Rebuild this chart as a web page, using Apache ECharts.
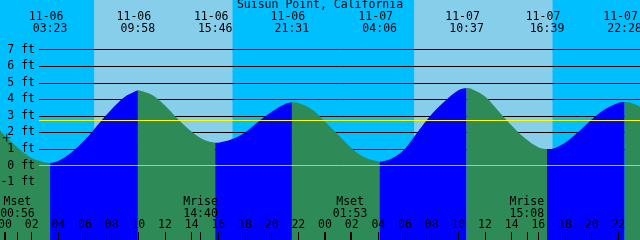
<!DOCTYPE html>
<html><head><meta charset="utf-8">
<script src="https://cdn.jsdelivr.net/npm/echarts@6/dist/echarts.min.js"></script>
<style>html,body{margin:0;padding:0;background:#00BFFF}#c{width:640px;height:240px}</style>
</head><body><div id="c"></div>
<script>
// ---- data ----
const chartTitle = 'Suisun Point, California';
const eventDates = ['11-06','11-06','11-06','11-06','11-07','11-07','11-07','11-07'];
const eventTimes = ['03:23','09:58','15:46','21:31','04:06','10:37','16:39','22:28'];
const eventFeet  = [0.15, 4.54, 1.37, 3.82, 0.22, 4.68, 0.98, 3.83];
const sampleHours = [-0.375,0,1,2,3,4,5,6,7,8,9,11,12,13,14,15,16,17,18,19,20,21,22,23,24,25,26,27,29,30,31,32,33,34,35,36,37,38,39,40,41,42,43,44,45,46,47,47.625];
const sampleFeet  = [2.13,1.8,1.05,0.45,0.18,0.27,0.8,1.55,2.5,3.4,4.15,4.27,3.62,2.78,2.04,1.52,1.38,1.58,2.0,2.65,3.25,3.72,3.78,3.4,2.65,1.85,1.05,0.48,0.42,1.02,2.08,3.1,3.9,4.55,4.63,4.17,3.3,2.42,1.64,1.1,1.0,1.38,2.02,2.78,3.4,3.78,3.77,3.55];
const sunDates = ['11-06','11-07'];
const sunrise = ['06:41','06:41'];
const sunset  = ['17:04','17:04'];
const moonDates  = ['11-06','11-06','11-07','11-07'];
const moonEvents = ['Mset','Mrise','Mset','Mrise'];
const moonTimes  = ['00:56','14:40','01:53','15:08'];
const hourTicks = [0,2,4,6,8,10,12,14,16,18,20,22,24,26,28,30,32,34,36,38,40,42,44,46];
const hourLabels = ['00','02','04','06','08','10','12','14','16','18','20','22','00','02','04','06','08','10','12','14','16','18','20','22'];
const midnightTicks = [0,24];
const levelLines = [1,2,3,4,5,6,7];
const meanLevel = 2.73;
const zeroLevel = 0;
const axisFeet = [-1,0,1,2,3,4,5,6,7];
const nowMark = [[0.13, 1.68]];

// ---- helpers ----
const dayIndex = d => (d === '11-06' ? 0 : 1);
function hoursOf(date, hhmm) { const [h, m] = hhmm.split(':').map(Number); return dayIndex(date) * 24 + h + m / 60; }
const eventHours = eventTimes.map((t, i) => hoursOf(eventDates[i], t));
const moonHours = moonTimes.map((t, i) => hoursOf(moonDates[i], t));
const sunBands = sunDates.map((d, i) => [{ xAxis: hoursOf(d, sunrise[i]) }, { xAxis: hoursOf(d, sunset[i]) }]);

const pts = sampleHours.map((h, i) => [h, sampleFeet[i], false])
  .concat(eventHours.map((h, i) => [h, eventFeet[i], true]))
  .sort((a, b) => a[0] - b[0]);
const segments = []; let cur = [];
pts.forEach(p => { cur.push([p[0], p[1]]); if (p[2]) { segments.push(cur); cur = [[p[0], p[1]]]; } });
if (cur.length > 1) segments.push(cur);

const FONT = 'DejaVu Sans Mono';
const XMIN = -0.375, XMAX = 47.625, LINE_START = 2.55;

const tideSeries = segments.map(seg => {
  const rising = seg[seg.length - 1][1] > seg[0][1];
  const col = rising ? '#0000FF' : '#2E8B57';
  return {
    type: 'line', data: seg, smooth: 0.35, showSymbol: false, silent: true, z: 10,
    lineStyle: { width: 0 }, areaStyle: { color: col, opacity: 1, origin: 'start' }, itemStyle: { color: col }
  };
});

const baseX = {
  type: 'value', min: XMIN, max: XMAX, gridIndex: 0, z: 50,
  axisLine: { show: false, onZero: false }, splitLine: { show: false }
};

const option = {
  animation: false,
  backgroundColor: '#00BFFF',
  textStyle: { fontFamily: FONT, fontSize: 11.5, color: '#000' },
  title: { text: chartTitle, left: 'center', top: -1, z: 50, padding: 0,
    textStyle: { fontFamily: FONT, fontSize: 11.5, fontWeight: 'normal', color: '#000', lineHeight: 12 } },
  grid: { left: 0, right: 0, top: 0, bottom: 0, containLabel: false, outerBoundsMode: 'none' },
  xAxis: [
    Object.assign({}, baseX, { position: 'bottom',
      axisTick: { show: true, inside: true, length: 8, customValues: hourTicks, lineStyle: { color: '#000', width: 1 } },
      axisLabel: { show: true, inside: true, margin: 9, customValues: hourTicks, fontFamily: FONT, fontSize: 11.5, color: '#000', lineHeight: 12,
        formatter: v => { const i = hourTicks.indexOf(v); return i >= 0 ? hourLabels[i] : ''; } } }),
    Object.assign({}, baseX, { position: 'top',
      axisTick: { show: false },
      axisLabel: { show: true, inside: true, margin: 11.5, customValues: eventHours, fontFamily: FONT, fontSize: 11.5, color: '#000', lineHeight: 12,
        formatter: v => { const i = eventHours.findIndex(h => Math.abs(h - v) < 1e-6); return i >= 0 ? '{d|' + eventDates[i] + '}\n{t|' + eventTimes[i] + '}' : ''; },
        rich: { d: { padding: [0, 8, 0, 0], fontFamily: FONT, fontSize: 11.5, lineHeight: 12 }, t: { fontFamily: FONT, fontSize: 11.5, lineHeight: 12 } } } }),
    Object.assign({}, baseX, { position: 'bottom',
      axisTick: { show: true, inside: true, length: 8, customValues: moonHours, lineStyle: { color: '#000', width: 1 } },
      axisLabel: { show: true, inside: true, margin: 20.5, customValues: moonHours, fontFamily: FONT, fontSize: 11.5, color: '#000', lineHeight: 11.5,
        formatter: v => { const i = moonHours.findIndex(h => Math.abs(h - v) < 1e-6); return i >= 0 ? moonEvents[i] + '\n' + moonTimes[i] : ''; } } }),
    Object.assign({}, baseX, { position: 'bottom',
      axisTick: { show: true, inside: true, length: 8, customValues: midnightTicks, lineStyle: { color: '#000', width: 2 } },
      axisLabel: { show: false } })
  ],
  yAxis: [{
    type: 'value', min: -4.5, max: 10, z: 50,
    axisLine: { show: false, onZero: false }, axisTick: { show: false }, splitLine: { show: false },
    axisLabel: { show: true, inside: true, align: 'right', margin: 35, customValues: axisFeet,
      fontFamily: FONT, fontSize: 11.5, color: '#000', formatter: v => v + ' ft' }
  }],
  series: [
    { type: 'line', data: [], silent: true, z: 1,
      markArea: { silent: true, z: 1, itemStyle: { color: '#87CEEB', opacity: 1 }, label: { show: false }, data: sunBands } },
    { type: 'line', data: [], silent: true, z: 5,
      markLine: { silent: true, z: 5, symbol: ['none', 'none'], label: { show: false },
        lineStyle: { color: '#000', width: 1, type: 'solid' },
        data: levelLines.map(v => [{ coord: [LINE_START, v] }, { coord: [XMAX, v] }]) } },
    ...tideSeries,
    { type: 'line', data: [], silent: true, z: 20,
      markLine: { silent: true, z: 20, symbol: ['none', 'none'], label: { show: false },
        data: [
          [{ coord: [LINE_START, meanLevel], lineStyle: { color: '#FFFF00', width: 1, type: 'solid' } }, { coord: [XMAX, meanLevel] }],
          [{ coord: [LINE_START, zeroLevel], lineStyle: { color: '#87CEEB', width: 1, type: 'solid' } }, { coord: [XMAX, zeroLevel] }]
        ] } },
    { type: 'scatter', data: nowMark, z: 30, silent: true,
      symbol: 'path://M0,3.5h8v1h-8z M3.5,0h1v8h-1z', symbolSize: [8, 8], itemStyle: { color: '#000' } }
  ]
};
const chart = echarts.init(document.getElementById('c'), null, { renderer: 'canvas' });
chart.setOption(option);
</script></body></html>
